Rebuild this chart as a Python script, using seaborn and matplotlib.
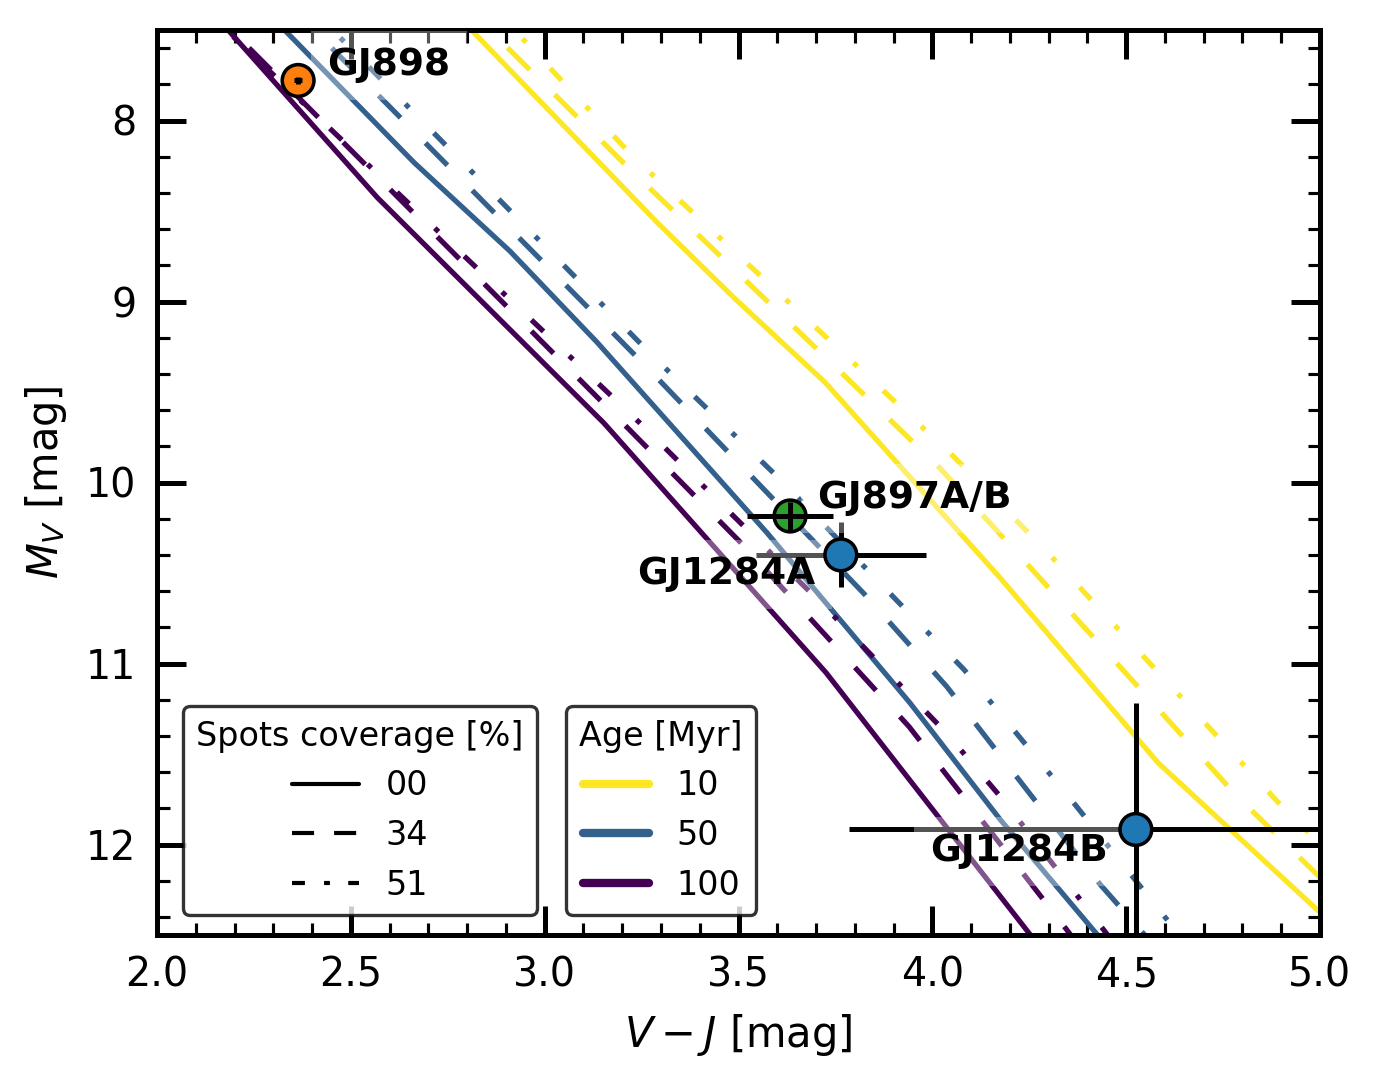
import numpy as np
import pandas as pd
import matplotlib
matplotlib.use("Agg")
import matplotlib.pyplot as plt
import seaborn as sns
from matplotlib.lines import Line2D
from matplotlib.ticker import MultipleLocator

# ---------------- data ----------------
ages = ["10", "50", "100"]          # Myr
spots = ["00", "34", "51"]          # spot coverage %

# isochrones: V-J and M_V
vj_10_00 = [2.738, 3.290, 3.495, 3.723, 4.175, 4.582, 5.000, 5.103]
mv_10_00 = [7.338, 8.563, 8.993, 9.446, 10.527, 11.548, 12.375, 12.580]
vj_10_34 = [2.782, 3.210, 3.676, 4.022, 4.239, 4.778, 4.979, 5.080]
mv_10_34 = [7.338, 8.248, 9.208, 9.926, 10.437, 11.715, 12.138, 12.348]
vj_10_51 = [2.851, 3.230, 3.726, 4.056, 4.291, 4.902, 5.026]
mv_10_51 = [7.338, 8.204, 9.197, 9.859, 10.372, 11.790, 12.050]

vj_50_00 = [2.255, 2.663, 2.911, 3.135, 3.574, 3.942, 4.175, 4.414, 4.510]
mv_50_00 = [7.338, 8.232, 8.723, 9.225, 10.279, 11.217, 11.862, 12.469, 12.710]
vj_50_34 = [2.330, 3.264, 3.824, 4.037, 4.433, 4.528, 4.639]
mv_50_34 = [7.338, 9.364, 10.615, 11.127, 12.221, 12.452, 12.720]
vj_50_51 = [2.379, 3.281, 3.611, 3.925, 4.082, 4.368, 4.580, 4.678]
mv_50_51 = [7.338, 9.306, 9.990, 10.689, 11.034, 11.779, 12.348, 12.607]

vj_100_00 = [2.116, 2.568, 3.153, 3.726, 4.252, 4.329]
mv_100_00 = [7.338, 8.425, 9.672, 11.051, 12.497, 12.712]
vj_100_34 = [2.116, 3.166, 3.509, 3.940, 4.332, 4.407]
mv_100_34 = [7.338, 9.594, 10.339, 11.349, 12.430, 12.640]
vj_100_51 = [2.099, 3.246, 3.723, 4.038, 4.182, 4.445, 4.523]
mv_100_51 = [7.338, 9.672, 10.687, 11.388, 11.752, 12.480, 12.701]

curves = {
    ("10", "00"): (vj_10_00, mv_10_00), ("10", "34"): (vj_10_34, mv_10_34),
    ("10", "51"): (vj_10_51, mv_10_51),
    ("50", "00"): (vj_50_00, mv_50_00), ("50", "34"): (vj_50_34, mv_50_34),
    ("50", "51"): (vj_50_51, mv_50_51),
    ("100", "00"): (vj_100_00, mv_100_00), ("100", "34"): (vj_100_34, mv_100_34),
    ("100", "51"): (vj_100_51, mv_100_51),
}

# stars
star_names = ["GJ898", "GJ897A/B", "GJ1284A", "GJ1284B"]
star_vj = [2.364, 3.633, 3.764, 4.525]
star_mv = [7.779, 10.185, 10.400, 11.917]
star_vj_err = [0.01, 0.11, 0.22, 0.74]
star_mv_err = [0.02, 0.08, 0.18, 0.70]

# ---------------- styles ----------------
star_colors = ["#ff7f0e", "#2ca02c", "#1f77b4", "#1f77b4"]
err_on_top = [True, True, False, False]
label_offsets = [(7, 3.7, "left"), (6.5, 4.2, "left"), (-6.2, -4.6, "right"), (-6.7, -5.2, "right")]

cmap = plt.get_cmap("viridis")
palette = {a: cmap(np.log10(100.0 / float(a))) for a in ages}
line_dashes = {"00": "", "34": (6.0, 6.8), "51": (3.2, 6.8, 1.0, 6.8)}
legend_dashes = {"00": None, "34": (5.3, 4.8), "51": (3.1, 4.6, 1.4, 4.4)}

rows = []
for (age, spot), (xs, ys) in curves.items():
    for x, y in zip(xs, ys):
        rows.append({"vj": x, "mv": y, "age": age, "spot": spot})
df = pd.DataFrame(rows)

sns.set_style("white")
plt.rcParams["font.family"] = ["DejaVu Sans"]
plt.rcParams["text.color"] = "black"
plt.rcParams["axes.labelcolor"] = "black"
plt.rcParams["xtick.color"] = "black"
plt.rcParams["ytick.color"] = "black"
plt.rcParams["axes.edgecolor"] = "black"

fig, ax = plt.subplots(figsize=(1383 / 300, 1081 / 300), dpi=300)
fig.subplots_adjust(left=157 / 1383, right=1320 / 1383, bottom=1 - 935 / 1081, top=1 - 30 / 1081)

sns.lineplot(data=df, x="vj", y="mv", hue="age", style="spot", hue_order=ages,
             style_order=spots, palette=palette, dashes=line_dashes, sort=False,
             estimator=None, lw=1.25, legend=False, ax=ax, zorder=2)

# error bars and markers
for i, name in enumerate(star_names):
    ax.errorbar(star_vj[i], star_mv[i], xerr=star_vj_err[i], yerr=star_mv_err[i],
                fmt="none", ecolor="black", elinewidth=1.2, capsize=0,
                zorder=7 if err_on_top[i] else 2.2)
stars_df = pd.DataFrame({"vj": star_vj, "mv": star_mv, "name": star_names})
sns.scatterplot(data=stars_df, x="vj", y="mv", hue="name",
                palette=dict(zip(star_names, star_colors)), s=58,
                edgecolor="black", linewidth=0.85, legend=False, ax=ax, zorder=6)

for i, name in enumerate(star_names):
    dx, dy, ha = label_offsets[i]
    ax.annotate(name, (star_vj[i], star_mv[i]), xytext=(dx, dy),
                textcoords="offset points", ha=ha, va="center", color="black",
                fontsize=9, fontweight="bold",
                bbox=dict(facecolor="white", alpha=0.33, edgecolor="none"),
                zorder=3)

ax.set_xlim(2.0, 5.0)
ax.set_ylim(12.5, 7.5)
ax.xaxis.set_major_locator(MultipleLocator(0.5))
ax.xaxis.set_minor_locator(MultipleLocator(0.1))
ax.yaxis.set_major_locator(MultipleLocator(1))
ax.yaxis.set_minor_locator(MultipleLocator(0.2))
ax.tick_params(which="both", direction="in", top=True, right=True,
               bottom=True, left=True, colors="black", labelcolor="black")
ax.tick_params(which="major", length=7, width=1.2, labelsize=9.5, pad=5)
ax.tick_params(which="minor", length=3, width=0.75)
for s in ax.spines.values():
    s.set_linewidth(1.2)
    s.set_color("black")

ax.set_xlabel(r"$V-J$ [mag]", fontsize=10, color="black")
ax.set_ylabel(r"$M_V$ [mag]", fontsize=10, color="black")

# legends
h1 = []
for sp in spots:
    if legend_dashes[sp] is None:
        h1.append(Line2D([0], [0], color="black", lw=1.0))
    else:
        h1.append(Line2D([0], [0], color="black", lw=1.0, dashes=legend_dashes[sp]))
leg1 = ax.legend(h1, spots, title="Spots coverage [%]", loc="lower left",
                 bbox_to_anchor=(0.0224, 0.0221), borderaxespad=0, fontsize=8,
                 title_fontsize=8, edgecolor="black", fancybox=True, labelcolor="black")
leg1.get_frame().set_linewidth(0.8)
leg1.get_title().set_color("black")
ax.add_artist(leg1)

h2 = [Line2D([0], [0], color=palette[a], lw=2.0) for a in ages]
leg2 = ax.legend(h2, ages, title="Age [Myr]", loc="lower left",
                 bbox_to_anchor=(0.3517, 0.0221), borderaxespad=0, fontsize=8,
                 title_fontsize=8, edgecolor="black", fancybox=True, labelcolor="black")
leg2.get_frame().set_linewidth(0.8)
leg2.get_title().set_color("black")

fig.savefig("out.png", dpi=300)
